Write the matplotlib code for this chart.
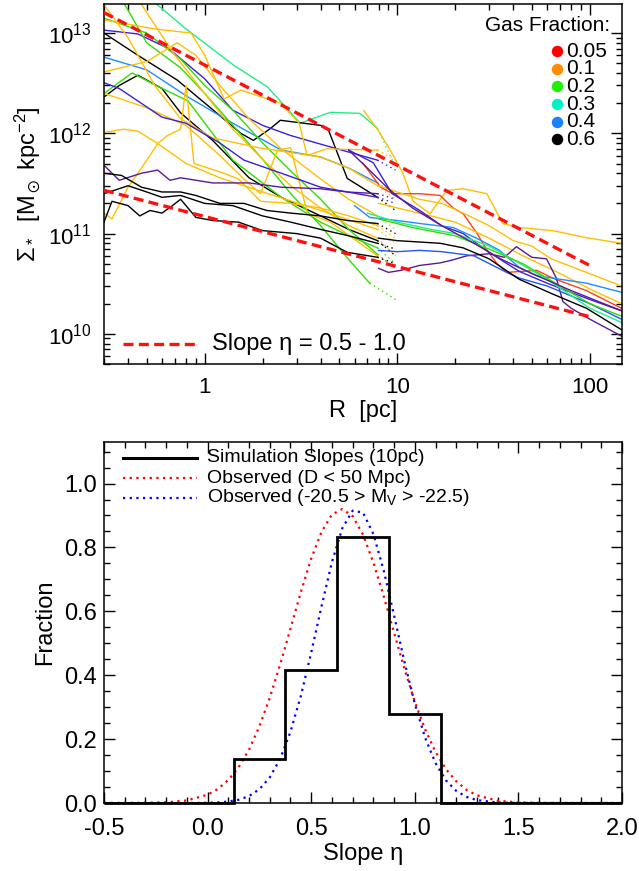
import matplotlib
matplotlib.use("Agg")
import numpy as np
import matplotlib.pyplot as plt
from matplotlib.ticker import LogLocator, MultipleLocator, NullFormatter, FixedLocator, FixedFormatter

plt.rcParams['font.family'] = ['Liberation Sans', 'DejaVu Sans']
plt.rcParams['mathtext.fontset'] = 'custom'
plt.rcParams['mathtext.rm'] = 'Liberation Sans'
plt.rcParams['mathtext.it'] = 'Liberation Sans:italic'
plt.rcParams['mathtext.default'] = 'regular'
plt.rcParams['mathtext.fallback'] = 'stixsans'
plt.rcParams['axes.unicode_minus'] = False

# --- colours ---
YEL = '#ffc000'
GRN = '#33dd00'
SPR = '#22ee88'
DOD = '#1e8cff'
IND = '#3c20dd'
PUR = '#5a1a96'
RED = '#ff4018'
BLK = 'black'

# --- top panel: inner profiles (R in pc, Sigma in 1e11 Msun/kpc^2), dotted tail value at ~10 pc ---
inner_r = [
    [0.45, 0.53, 0.8, 1.41, 2.12, 3.14, 3.67, 4.5, 6.4, 7.9],
    [0.3, 0.45, 0.72, 1.11, 1.54, 1.79, 2.2, 2.47, 4.0, 4.4, 5.5, 7.9],
    [0.3, 0.36, 0.45, 0.6, 0.75, 1.1, 1.7, 2.5, 4, 5.6, 7.9],
    [0.3, 0.45, 0.65, 1.0, 1.4, 2.0, 2.8, 4.0, 5.6, 7.9],
    [0.3, 0.5, 0.82, 1.4, 2.5, 4, 5.6, 7.9],
    [0.3, 0.42, 0.58, 0.82, 1.4, 2.5, 4, 5.6, 7.9],
    [0.3, 0.5, 0.75, 1.0, 1.4, 2.0, 2.8, 4, 5.6, 7.9],
    [0.38, 0.5, 0.75, 1.0, 1.4, 2.0, 2.8, 4, 5.6, 7.2],
    [0.3, 0.55, 0.85, 1.0, 1.26, 1.54, 2.47, 3.1, 3.4, 4.3, 7.9],
    [0.3, 0.5, 0.72, 0.9, 1.2, 1.7, 2.5, 4, 5.6, 7.9],
    [0.3, 0.38, 0.45, 0.57, 0.64, 0.75, 0.8, 0.88, 1.21, 1.5, 1.95, 2.8, 4, 5.6, 7.9],
    [0.45, 0.5, 0.7, 1.0, 1.4, 2.0, 2.8, 4.0, 5.6, 7.9],
    [0.3, 0.5, 0.8, 1.2, 1.6, 1.95, 2.39, 2.79, 3.42, 4.5, 7.9],
    [0.3, 0.4, 0.55, 0.75, 1.1, 1.9, 4, 5.6, 7.9],
    [0.3, 0.33, 0.4, 0.47, 0.57, 0.8, 1.2, 2, 4, 7.9],
    [0.3, 0.36, 0.47, 0.57, 0.66, 0.75, 1.1, 1.7, 2.5, 4, 5.5, 7.9],
    [0.3, 0.37, 0.47, 0.6, 0.75, 0.9, 1.2, 1.6, 2.1, 2.8, 4, 5.5, 7.9],
    [0.3, 0.33, 0.4, 0.46, 0.52, 0.6, 0.68, 0.75, 0.9, 1.1, 1.5, 2, 3, 4, 5.5, 7.9],
    [0.3, 0.4, 0.5, 0.6, 0.75, 1, 1.4, 2, 2.8, 4, 5.6, 7.9],
    [0.3, 0.36, 0.45, 0.6, 0.8, 1.2, 1.6, 2.5, 4, 7.9],
]
inner_sig = [
    [330, 214, 110, 48, 29, 12.6, 14.1, 16.2, 15.8, 11.2],
    [100, 60, 34, 17, 10, 8.5, 11.2, 13.5, 12, 10.7, 3.55, 2.3],
    [23, 30, 38, 28, 16, 8.5, 3.6, 2.3, 1.5, 1.1, 0.85],
    [107, 98, 70, 35, 17, 12, 9.5, 7.8, 6.5, 5.4],
    [57.5, 43, 23, 12.6, 6.8, 5.8, 4.5, 3.2],
    [25, 40, 29, 21, 5.4, 2.3, 1.3, 0.95, 0.72],
    [141, 100, 55, 30, 17, 8, 4.2, 2.2, 1.1, 0.62],
    [200, 80, 45, 25, 12, 5.5, 2.5, 1.2, 0.55, 0.32],
    [135, 110, 100, 60, 22, 27, 20, 12.6, 6, 7, 6.8],
    [41, 52, 80, 60, 30, 14, 7, 3.5, 2.2, 1.5],
    [10.2, 11, 10.5, 7.9, 9.5, 11, 30, 5, 4.1, 3.5, 2.1, 2.0, 1.8, 1.5, 1.2],
    [220, 160, 60, 25, 11, 5.5, 3, 1.8, 1.2, 0.9],
    [25, 18, 12, 6, 3.5, 2.5, 6.8, 7.2, 1.58, 1.3, 0.6],
    [191, 90, 30, 14, 9, 7.2, 5.8, 4.5, 3],
    [1.6, 1.4, 2.9, 4.5, 7.9, 5, 3.6, 2.6, 1.7, 1.1],
    [4.8, 3.4, 4, 4.3, 3.4, 3.6, 3.2, 3.2, 2.9, 2.8, 2.6, 2.5],
    [4, 3.8, 2.9, 2.6, 2.6, 2.4, 2, 2, 1.7, 1.6, 1.5, 1.35, 1.26],
    [1.3, 2.1, 1.9, 1.5, 1.7, 1.6, 1.9, 2.2, 1.45, 1.35, 1.3, 1.07, 1, 0.9, 0.65, 0.58],
    [2.5, 3.0, 2.6, 2.3, 2.4, 2.0, 1.9, 1.5, 1.3, 1.1, 0.95, 0.8],
    [32, 28, 21, 14.5, 12.6, 8, 5.4, 4, 2.9, 2.3],
]
inner_col = [SPR, BLK, BLK, IND, DOD, GRN, GRN, GRN, YEL, YEL,
             YEL, YEL, YEL, YEL, YEL, PUR, BLK, BLK, BLK, IND]
inner_tail = [4.6, 1.7, 0.6, 4.3, 2.4, 0.5, 0.45, 0.22, 5.5, 1.1,
              0.9, 0.6, 0.45, 2.2, 0.8, 2.2, 1.0, 0.5, 0.7, 2.0]
tail_r = 9.8

# --- top panel: outer profiles ---
outer_r = [
    [6.7, 7.96, 9.2, 10.7, 12.1, 14.8, 18.1, 22, 29.2, 35.3, 43.3, 64, 96, 146],
    [6.6, 8.2, 9.5, 13.1, 16.7, 19.5, 22, 26, 29.3, 33, 37, 53, 64, 96, 146],
    [8, 10, 13, 17, 22, 30, 40, 50, 63, 96, 146],
    [8, 10, 15, 20, 30, 45, 70, 100, 146],
    [8, 9, 10.5, 13, 16.7, 19, 23, 30, 36, 41.6, 50, 59.6, 67, 72.5, 80, 100, 146],
    [5.6, 7.5, 9.4, 13.1, 17, 22, 30, 43, 60, 100, 146],
    [6, 7.2, 10, 13.1, 19.5, 25.8, 34, 43, 53, 64, 96, 146],
    [8, 10, 13, 17, 25, 37, 43, 60, 100, 146],
    [7, 10, 15, 20, 30, 40, 60, 100, 146],
    [8, 12, 20, 30, 45, 70, 100, 146],
    [8, 10, 16.7, 22, 30, 43, 64, 96, 146],
    [5.6, 7, 9, 12, 17, 25, 35, 50, 80, 146],
]
outer_sig = [
    [16.9, 10.7, 6.8, 4, 2.1, 1.58, 2.7, 2.8, 2.5, 1.26, 1.15, 1.07, 0.91, 0.8],
    [5.1, 2.9, 2.5, 2.5, 2.4, 1.8, 1.58, 1, 0.68, 0.5, 0.41, 0.43, 0.36, 0.27, 0.18],
    [3, 2.6, 2.2, 2.0, 1.6, 1.2, 0.85, 0.75, 0.56, 0.41, 0.30],
    [2, 1.8, 1.5, 1.3, 0.9, 0.6, 0.4, 0.28, 0.2],
    [0.45, 0.41, 0.43, 0.48, 0.51, 0.54, 0.6, 0.63, 0.58, 0.74, 0.58, 0.56, 0.36, 0.21, 0.18, 0.14, 0.095],
    [6.8, 5.1, 2.5, 1.7, 1.2, 1.0, 0.65, 0.42, 0.32, 0.22, 0.17],
    [1.9, 1.45, 1.35, 1.26, 1.15, 0.9, 0.68, 0.46, 0.38, 0.36, 0.32, 0.26],
    [0.68, 0.66, 0.68, 0.66, 0.6, 0.41, 0.36, 0.3, 0.2, 0.14],
    [1.6, 1.3, 1.1, 1.0, 0.75, 0.55, 0.35, 0.18, 0.13],
    [1.4, 1.15, 0.95, 0.7, 0.5, 0.3, 0.2, 0.15],
    [0.9, 0.85, 0.8, 0.72, 0.56, 0.35, 0.25, 0.18, 0.11],
    [6.8, 4.5, 2.8, 1.8, 1.2, 0.8, 0.55, 0.4, 0.27, 0.17],
]
outer_col = [YEL, RED, YEL, YEL, PUR, IND, DOD, '#2255ff', SPR, GRN, BLK, PUR]

# reference power laws (eta = 1.0 and 0.5)
slope_r = [0.3, 100]
slope_hi = [160, 0.48]
slope_lo = [2.7, 0.148]

gas_labels = ['0.05', '0.1', '0.2', '0.3', '0.4', '0.6']
gas_colors = ['#ff0000', '#ff8c00', '#22ee00', '#00f0c8', '#1e80ff', 'black']

# --- bottom panel ---
hist_edges = [-0.5, 0.125, 0.375, 0.625, 0.875, 1.125, 2.0]
hist_vals = [0.0, 0.139, 0.417, 0.833, 0.278, 0.0]

red_eta = [-0.5, -0.3, -0.2, -0.1, 0.0, 0.05, 0.1, 0.15, 0.2, 0.25, 0.3, 0.35, 0.4, 0.45,
           0.5, 0.55, 0.6, 0.65, 0.7, 0.75, 0.8, 0.85, 0.9, 0.95, 1.0, 1.05, 1.1, 1.15,
           1.2, 1.25, 1.3, 1.4, 1.5, 1.6, 2.0]
red_frac = [0.0, 0.0004, 0.002, 0.008, 0.026, 0.044, 0.072, 0.112, 0.167, 0.240, 0.329,
            0.433, 0.546, 0.660, 0.765, 0.849, 0.903, 0.920, 0.898, 0.840, 0.753, 0.647,
            0.533, 0.420, 0.317, 0.230, 0.160, 0.106, 0.068, 0.041, 0.024, 0.007, 0.002,
            0.0004, 0.0]
blue_eta = [-0.5, -0.1, 0.0, 0.05, 0.1, 0.15, 0.2, 0.25, 0.3, 0.35, 0.4, 0.45, 0.5, 0.55,
            0.6, 0.65, 0.7, 0.75, 0.8, 0.85, 0.9, 0.95, 1.0, 1.05, 1.1, 1.15, 1.2, 1.25,
            1.3, 1.4, 1.5, 2.0]
blue_frac = [0.0, 0.0, 0.0007, 0.0018, 0.0045, 0.0102, 0.0217, 0.0431, 0.080, 0.138, 0.223,
             0.335, 0.471, 0.616, 0.754, 0.860, 0.915, 0.909, 0.842, 0.728, 0.587, 0.442,
             0.311, 0.204, 0.125, 0.071, 0.038, 0.019, 0.009, 0.0015, 0.0002, 0.0]

leg_labels = ['Simulation Slopes (10pc)', 'Observed (D < 50 Mpc)',
              'Observed (-20.5 > M$_V$ > -22.5)']

UNIT = 1e11
fig = plt.figure(figsize=(6.39, 8.71), dpi=100)
ax1 = fig.add_axes([104 / 639, 1 - 364 / 871, 518 / 639, 360 / 871])
ax2 = fig.add_axes([104 / 639, 1 - 803 / 871, 518 / 639, 361 / 871])


def style_axes(ax, size):
    for sp in ax.spines.values():
        sp.set_linewidth(1.1)
    ax.tick_params(which='both', direction='in', top=True, right=True, width=1.0,
                   labelsize=size)
    ax.tick_params(which='major', length=8)
    ax.tick_params(which='minor', length=4.5)


# ---- top panel ----
for r, s, c, t in zip(inner_r, inner_sig, inner_col, inner_tail):
    ax1.plot(r, np.array(s) * UNIT, color=c, lw=1.0)
    ax1.plot([r[-1], tail_r], [s[-1] * UNIT, t * UNIT], color=c, lw=1.0, ls=(0, (1, 2.5)))
for r, s, c in zip(outer_r, outer_sig, outer_col):
    ax1.plot(r, np.array(s) * UNIT, color=c, lw=1.0)

for sl in (slope_hi, slope_lo):
    ax1.plot(slope_r, np.array(sl) * UNIT, color='#ff1010', lw=2.4, ls=(0, (3, 1.6)), zorder=5)

ax1.set_xscale('log')
ax1.set_yscale('log')
ax1.set_xlim(0.3, 147)
ax1.set_ylim(5e9, 1.95e13)
style_axes(ax1, 16)
ax1.tick_params(which='major', pad=9)
ax1.xaxis.set_major_locator(FixedLocator([1, 10, 100]))
ax1.xaxis.set_major_formatter(FixedFormatter(['1', '10', '100']))
ax1.xaxis.set_minor_locator(LogLocator(base=10, subs=np.arange(2, 10)))
ax1.xaxis.set_minor_formatter(NullFormatter())
ax1.yaxis.set_major_locator(FixedLocator([1e10, 1e11, 1e12, 1e13]))
ax1.yaxis.set_major_formatter(FixedFormatter(['$10^{10}$', '$10^{11}$', '$10^{12}$', '$10^{13}$']))
ax1.yaxis.set_minor_locator(LogLocator(base=10, subs=np.arange(2, 10)))
ax1.yaxis.set_minor_formatter(NullFormatter())
ax1.set_xlabel('R  [pc]', fontsize=17, labelpad=2)
ax1.set_ylabel(r'$\Sigma_*$  [M$_\odot$ kpc$^{-2}$]', fontsize=17, labelpad=4)

# gas fraction key
ax1.text(0.977, 0.939, 'Gas Fraction:', transform=ax1.transAxes, ha='right', va='center',
         fontsize=15)
for i, (lab, col) in enumerate(zip(gas_labels, gas_colors)):
    yy = 0.869 - i * 0.049
    ax1.scatter([0.875], [yy], s=68, color=col, transform=ax1.transAxes, zorder=6,
                linewidths=0)
    ax1.text(0.892, yy, lab, transform=ax1.transAxes, va='center', fontsize=15)

# slope key
ax1.plot([0.037, 0.183], [0.056, 0.056], transform=ax1.transAxes, color='#ff1010', lw=2.4,
         ls=(0, (3, 1.6)))
ax1.text(0.208, 0.056, 'Slope η = 0.5 - 1.0', transform=ax1.transAxes, va='center',
         fontsize=17)

# ---- bottom panel ----
ax2.stairs(hist_vals, hist_edges, color='black', lw=2.0, baseline=0, clip_on=False, zorder=4)
ax2.plot(red_eta, red_frac, color='red', lw=1.6, ls=(0, (1, 2)), clip_on=False)
ax2.plot(blue_eta, blue_frac, color='blue', lw=1.6, ls=(0, (1, 2)), clip_on=False)
ax2.set_xlim(-0.5, 2.0)
ax2.set_ylim(0.0, 1.13)
style_axes(ax2, 17)
ax2.tick_params(axis='x', which='major', pad=11)
ax2.tick_params(axis='y', which='major', pad=5)
ax2.xaxis.set_major_locator(MultipleLocator(0.5))
ax2.xaxis.set_minor_locator(MultipleLocator(0.1))
ax2.yaxis.set_major_locator(MultipleLocator(0.2))
ax2.yaxis.set_minor_locator(MultipleLocator(0.05))
ax2.xaxis.set_major_formatter(matplotlib.ticker.FormatStrFormatter('%.1f'))
ax2.yaxis.set_major_formatter(matplotlib.ticker.FormatStrFormatter('%.1f'))
ax2.set_xlabel('Slope η', fontsize=17, labelpad=2)
ax2.set_ylabel('Fraction', fontsize=17, labelpad=6)

key_y = [0.956, 0.900, 0.845]
key_style = [dict(color='black', lw=2.2, ls='-'),
             dict(color='red', lw=1.6, ls=(0, (1, 2))),
             dict(color='blue', lw=1.6, ls=(0, (1, 2)))]
for yy, lab, st in zip(key_y, leg_labels, key_style):
    ax2.plot([0.037, 0.18], [yy, yy], transform=ax2.transAxes, **st)
    ax2.text(0.199, yy, lab, transform=ax2.transAxes, va='center', fontsize=14)

fig.savefig('out.png', dpi=100)
